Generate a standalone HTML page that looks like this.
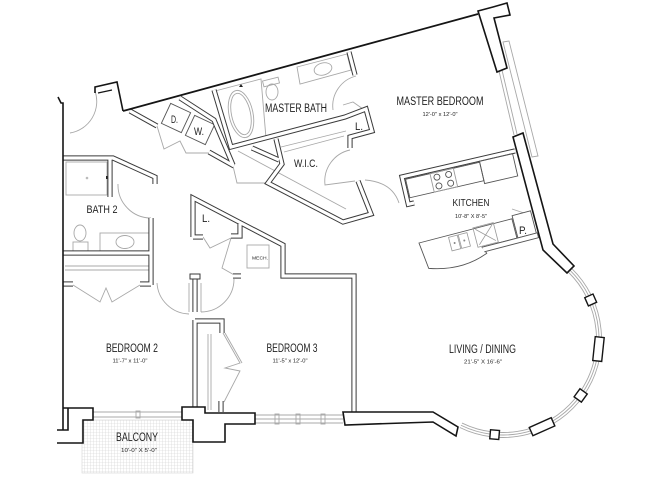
<!DOCTYPE html>
<html><head><meta charset="utf-8">
<style>
html,body{margin:0;padding:0;background:#fff;}
svg{display:block;}
text{font-family:"Liberation Sans",sans-serif;fill:#1e1e1e;}
</style></head><body>
<svg width="659" height="480" viewBox="0 0 659 480" xmlns="http://www.w3.org/2000/svg">
<defs>
<pattern id="grid" width="3" height="3" patternUnits="userSpaceOnUse">
<path d="M3 0 L0 0 0 3" fill="none" stroke="#cfcfcf" stroke-width="0.6"/>
</pattern>
</defs>
<rect width="659" height="480" fill="#fff"/>

<!-- balcony hatch -->
<rect x="82" y="420" width="111" height="53" fill="url(#grid)" stroke="#d4d4d4" stroke-width="0.6"/>

<!-- grey fixtures / doors / windows -->
<g fill="none" stroke="#a8a8a8" stroke-width="0.9">
  <!-- entry door -->
  <path d="M95,91 A32,32 0 0 1 70,133"/>
  <!-- laundry bifold -->
  <path d="M157,126 L164,149 L180,141 L186,153 L210,153"/>
  <!-- WIC/hall door -->
  <path d="M233,166 L237,183 L266,183"/>
  <!-- WIC rods -->
  <path d="M238,151 L346,209"/>
  <path d="M281,147 L346,131"/>
  <path d="M284,152 L344,136"/>
  <!-- master bath door -->
  <path d="M356,76 A31,31 0 0 0 333,110"/>
  <path d="M343,105 L353,102 L363,109"/>
  <!-- WIC door -->
  <path d="M350,150 A32,32 0 0 0 325,185 L355,181"/>
  <!-- master bedroom entry door -->
  <path d="M365,180 Q392,182 399,203"/>
  <!-- tub -->
  <path d="M215,91 L261,79 L266,138 L232,148 Z"/>
  <ellipse cx="241" cy="114" rx="12" ry="24" transform="rotate(-12 241 114)"/>
  <ellipse cx="241" cy="114" rx="9.5" ry="21" transform="rotate(-12 241 114)"/>
  <!-- master toilet -->
  <rect x="263" y="79" width="16" height="6" transform="rotate(-14 271 82)"/>
  <ellipse cx="272" cy="92" rx="6" ry="8"/>
  <!-- master vanity -->
  <path d="M297,67 L347,54 L351,70 L300,84 Z"/>
  <ellipse cx="323" cy="69" rx="9" ry="6" transform="rotate(-15 323 69)"/>
  <!-- master bedroom window -->
  <path d="M503,42 L509,41 L538,156 L532,157 Z"/>
  <path d="M499,71 L514,135"/>
  <path d="M502,70 L517,134"/>
  <!-- bath 2 -->
  <rect x="66" y="162" width="41" height="33"/>
  <path d="M118,184 A33,33 0 0 0 151,218"/>
  <ellipse cx="80" cy="233" rx="6" ry="8"/>
  <rect x="73" y="242" width="15" height="9"/>
  <rect x="100" y="233" width="49" height="18"/>
  <ellipse cx="125" cy="242" rx="9" ry="6.5"/>
  <!-- bed2 closet -->
  <path d="M65,266 L150,266"/>
  <path d="M65,270 L150,270"/>
  <path d="M73,285 L100,302 L106,288 L112,302 L140,285"/>
  <!-- bedroom doors -->
  <path d="M157,283 A33,33 0 0 0 189,314"/>
  <path d="M189,283 L189,312"/>
  <path d="M234,279 A33,33 0 0 1 201,312"/>
  <path d="M201,283 L201,312"/>
  <!-- bed3 closet -->
  <path d="M208,334 L208,410"/>
  <path d="M211,334 L211,410"/>
  <path d="M223,333 L240,363 L225,368 L240,371 L224,402"/>
  <path d="M225,333 L242,363"/>
  <!-- hall closet / mech doors -->
  <path d="M203,237 L210,248 L231,238"/>
  <path d="M231,238 L222,268 L236,276"/>
  <rect x="247" y="245" width="22" height="23"/>
  <!-- windows bottom -->
  <path d="M93,412 L182,412 M93,417 L182,417"/>
  <rect x="136" y="411" width="4" height="7"/>
  <path d="M255,415 L343,415 M255,419 L343,419 M255,423 L343,423"/>
  <rect x="275" y="414" width="4" height="10"/>
  <rect x="296" y="414" width="4" height="10"/>
  <rect x="321" y="414" width="4" height="10"/>
  <!-- bay window arcs -->
  <path d="M567.95,271.75 A93.5,93.5 0 0 1 462.01,423.04"/>
  <path d="M569.69,269.95 A96,96 0 0 1 460.91,425.28"/>
  <path d="M571.43,268.15 A98.5,98.5 0 0 1 459.82,427.53"/>
  <!-- pantry door -->
  <path d="M512,209 L527,214"/>
</g>
<circle cx="87" cy="178" r="1.3" fill="#bbb"/>
<rect x="106" y="176" width="2.5" height="3" fill="#222"/>
<path d="M239,87 l2,-3 l2,3 z" fill="#222"/>

<!-- laundry appliances -->
<g fill="none" stroke="#555" stroke-width="0.9">
  <rect x="-11" y="-11" width="22" height="22" transform="translate(176,118) rotate(25)"/>
  <rect x="-11" y="-11" width="22" height="22" transform="translate(200,130) rotate(25)"/>
</g>

<!-- interior double walls -->
<g fill="none" stroke="#3a3a3a" stroke-width="5.2" stroke-linejoin="miter">
  <path d="M130,111 L157,126"/>
  <path d="M180,98 L214,120 L233,165"/>
  <path d="M209,152 L234,166"/>
  <path d="M214,90 L231,147 L345,117 L366,109 L372,131 L350,137 L350,148"/>
  <path d="M276,139 L282,164 L268,183 L343,222 L371,214 L358,181"/>
  <path d="M252,148 L279,160"/>
  <path d="M349,52 L355,75"/>
  <path d="M63,158 L113,158 L155,177 L155,184"/>
  <path d="M110,158 L110,197"/>
  <path d="M151,218 L151,285"/>
  <path d="M63,253 L151,253"/>
  <path d="M63,284 L73,284"/>
  <path d="M140,284 L151,284"/>
  <path d="M195,276 L195,312"/>
  <path d="M195,320 L195,408"/>
  <path d="M195,321 L222,321 L222,333"/>
  <path d="M193,237 L193,198 L283,245 L283,276 L354,276 L354,412"/>
  <path d="M193,237 L203,237"/>
  <path d="M231,236 L240,236 L240,224"/>
  <path d="M233,276 L241,276"/>
  <path d="M221,401 L221,412"/>
</g>
<g fill="none" stroke="#fff" stroke-width="3.2" stroke-linejoin="miter">
  <path d="M130,111 L157,126"/>
  <path d="M180,98 L214,120 L233,165"/>
  <path d="M209,152 L234,166"/>
  <path d="M214,90 L231,147 L345,117 L366,109 L372,131 L350,137 L350,148"/>
  <path d="M276,139 L282,164 L268,183 L343,222 L371,214 L358,181"/>
  <path d="M252,148 L279,160"/>
  <path d="M349,52 L355,75"/>
  <path d="M63,158 L113,158 L155,177 L155,184"/>
  <path d="M110,158 L110,197"/>
  <path d="M151,218 L151,285"/>
  <path d="M63,253 L151,253"/>
  <path d="M63,284 L73,284"/>
  <path d="M140,284 L151,284"/>
  <path d="M195,276 L195,312"/>
  <path d="M195,320 L195,408"/>
  <path d="M195,321 L222,321 L222,333"/>
  <path d="M193,237 L193,198 L283,245 L283,276 L354,276 L354,412"/>
  <path d="M193,237 L203,237"/>
  <path d="M231,236 L240,236 L240,224"/>
  <path d="M233,276 L241,276"/>
  <path d="M221,401 L221,412"/>
</g>
<rect x="190" y="274" width="10" height="5" fill="#fff" stroke="#3a3a3a" stroke-width="1"/>

<!-- kitchen upper -->
<g transform="translate(402,177) rotate(-13)">
  <path d="M116,0 L0,0 L0,28 L6,28" fill="none" stroke="#3a3a3a" stroke-width="5.2"/>
  <path d="M116,0 L0,0 L0,28 L6,28" fill="none" stroke="#fff" stroke-width="3.2"/>
  <g fill="none" stroke="#555" stroke-width="0.9">
    <rect x="3" y="3" width="76" height="19"/>
    <rect x="28" y="3" width="24" height="19" stroke="#999"/>
    <circle cx="34" cy="8" r="3"/><circle cx="46" cy="8" r="3"/>
    <circle cx="34" cy="17" r="3"/><circle cx="46" cy="17" r="3"/>
    <rect x="79" y="2" width="34" height="23"/>
  </g>
</g>
<!-- kitchen lower -->
<g transform="translate(419,243) rotate(-14.6)">
  <g fill="#fff" stroke="#555" stroke-width="0.9">
    <path d="M0,0 L96,0 L96,20 L60,20 L63,27 Q35,38 3,27 Z"/>
    <rect x="97" y="-3" width="19" height="23"/>
    <path d="M60,20 L117,20 L117,25 L61,25"/>
  </g>
  <g fill="none" stroke="#999" stroke-width="0.8">
    <rect x="30" y="2" width="9" height="14"/>
    <rect x="40" y="2" width="9" height="14"/>
    <rect x="56" y="-1" width="21" height="20"/>
    <path d="M58,1 L75,17 M75,1 L58,17"/>
  </g>
  <circle cx="34.5" cy="9" r="1" fill="#888"/>
  <circle cx="44.5" cy="9" r="1" fill="#888"/>
</g>

<!-- exterior black walls -->
<g fill="#fff" stroke="#151515" stroke-width="1.6" stroke-linejoin="miter">
  <path d="M95,93 L95,87 L117,82 L123,111" fill="none"/>
  <path d="M98,93 L112,90" fill="none" stroke-width="1.2"/>
  <path d="M123,111 L478,14" fill="none" stroke-width="1.8"/>
  <path d="M58,97 L61,103 L63,103 L63,430" fill="none"/>
  <path d="M478,11 L493,7 L507,3 L510,15 L494,18 L507,68 L497,72 Z"/>
  <path d="M513,137 L523,133 L553,244 L574,266 L567,273 L543,250 Z"/>
  <path d="M343,412 L433,412 L458,427 L456,436 L433,422 L403,423 L345,425 Z"/>
  <path d="M182,407 L205,407 L205,413 L255,413 L255,424 L225,424 L225,442 L193,442 L193,420 L182,420 Z"/>
  <path d="M63,408 L93,408 L93,420 L83,420 L83,443 L57,443" fill="none"/>
  <path d="M57,430 L68,430 L68,408" fill="none"/>
  <g transform="translate(503,339)" stroke-width="1.4">
    <rect x="91.5" y="-4.5" width="9" height="9" transform="rotate(-24)"/>
    <rect x="91.5" y="-12" width="9" height="24" transform="rotate(6)"/>
    <rect x="91.5" y="-5" width="9" height="10" transform="rotate(36)"/>
    <rect x="91.5" y="-12" width="9" height="24" transform="rotate(66)"/>
    <rect x="91.5" y="-4.5" width="9" height="9" transform="rotate(95)"/>
  </g>
</g>

<!-- labels -->
<g text-anchor="middle" lengthAdjust="spacingAndGlyphs">
  <text x="296" y="112" font-size="11.5" textLength="62" lengthAdjust="spacingAndGlyphs">MASTER BATH</text>
  <text x="440" y="105" font-size="11.5" textLength="87" lengthAdjust="spacingAndGlyphs">MASTER BEDROOM</text>
  <text x="440" y="116" font-size="5.5" textLength="35" lengthAdjust="spacingAndGlyphs">12'-0" x 12'-0"</text>
  <text x="471" y="206" font-size="10.5" textLength="37" lengthAdjust="spacingAndGlyphs">KITCHEN</text>
  <text x="471" y="218" font-size="5.5" textLength="32" lengthAdjust="spacingAndGlyphs">10'-8" X 8'-5"</text>
  <text x="306" y="167" font-size="11" textLength="24" lengthAdjust="spacingAndGlyphs">W.I.C.</text>
  <text x="102" y="213" font-size="11" textLength="31" lengthAdjust="spacingAndGlyphs">BATH 2</text>
  <text x="174.5" y="123" font-size="11" textLength="7" lengthAdjust="spacingAndGlyphs">D.</text>
  <text x="199" y="135" font-size="11" textLength="10" lengthAdjust="spacingAndGlyphs">W.</text>
  <text x="359" y="130" font-size="11" textLength="8" lengthAdjust="spacingAndGlyphs">L.</text>
  <text x="206" y="222" font-size="11" textLength="8" lengthAdjust="spacingAndGlyphs">L.</text>
  <text x="260" y="259.5" font-size="4.5" textLength="16" lengthAdjust="spacingAndGlyphs">MECH.</text>
  <text x="523" y="234" font-size="11" textLength="8" lengthAdjust="spacingAndGlyphs">P.</text>
  <text x="132" y="352" font-size="11.5" textLength="52" lengthAdjust="spacingAndGlyphs">BEDROOM 2</text>
  <text x="130" y="362.5" font-size="5.5" textLength="35" lengthAdjust="spacingAndGlyphs">11'-7" x 11'-0"</text>
  <text x="292" y="352" font-size="11.5" textLength="51" lengthAdjust="spacingAndGlyphs">BEDROOM 3</text>
  <text x="290" y="362.5" font-size="5.5" textLength="35" lengthAdjust="spacingAndGlyphs">11'-5" x 12'-0"</text>
  <text x="482.5" y="353" font-size="11.5" textLength="67" lengthAdjust="spacingAndGlyphs">LIVING / DINING</text>
  <text x="483" y="363.5" font-size="5.5" textLength="38" lengthAdjust="spacingAndGlyphs">21'-5" X 16'-6"</text>
  <text x="137" y="441" font-size="11.5" textLength="42" lengthAdjust="spacingAndGlyphs">BALCONY</text>
  <text x="139" y="452" font-size="5.5" textLength="36" lengthAdjust="spacingAndGlyphs">10'-0" X 5'-0"</text>
</g>
</svg>
</body></html>
